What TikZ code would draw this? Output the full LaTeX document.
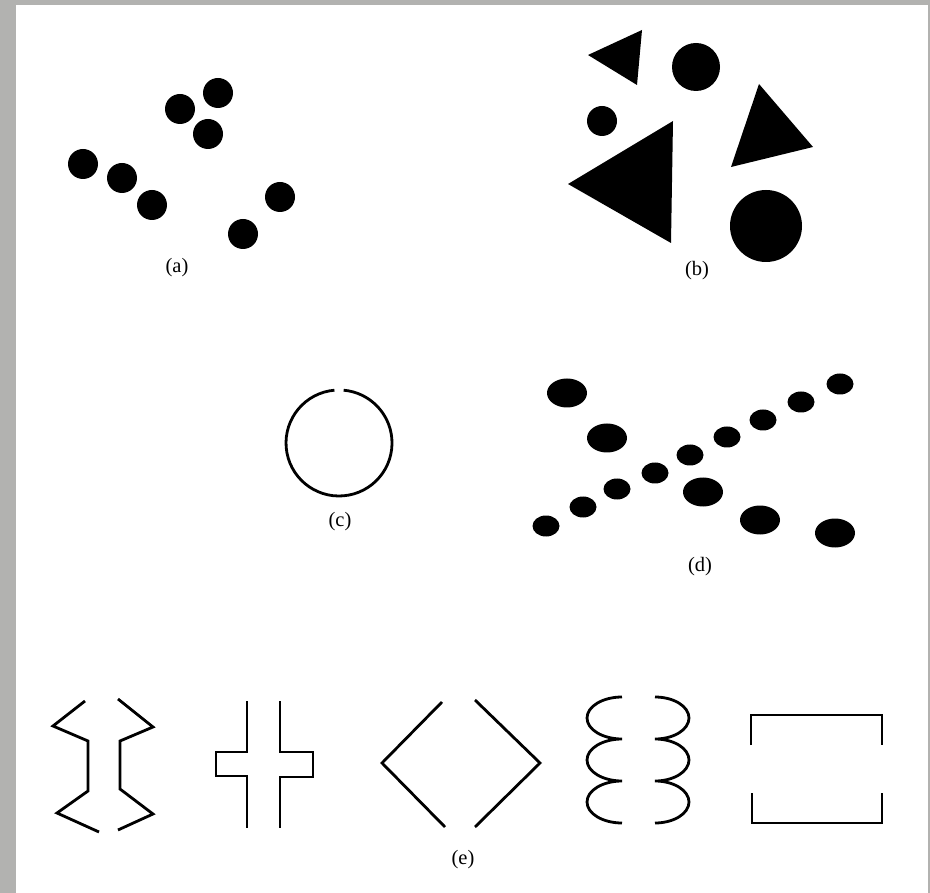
\documentclass[tikz,border=0pt]{standalone}
\usepackage{fontspec}
\setmainfont{Liberation Serif}
\definecolor{framegray}{HTML}{B2B2B0}
\begin{document}
\begin{tikzpicture}[x=1pt,y=-1pt,
  dot/.style={fill=black},
  outline/.style={draw=black,line width=2.8pt},
  lbl/.style={font=\fontsize{20.5}{22}\selectfont,inner sep=0pt}]
\useasboundingbox (0,0) rectangle (930,893);
\fill[framegray] (0,0) rectangle (930,893);
\fill[white] (16,5) rectangle (928,893);
% (a)
\foreach \x/\y in {180/109,218/93,208/134,83/164,122/178,152/205,280/197,243/234}
  \fill[dot] (\x,\y) circle[radius=15pt];
\node[lbl] (la) at (177,268) {(a)};
% (b)
\fill[dot] (588,55) -- (642,30) -- (637,85) -- cycle;
\fill[dot] (696,67) circle[radius=24pt];
\fill[dot] (602,121) circle[radius=15pt];
\fill[dot] (568,184) -- (673,121) -- (671,243) -- cycle;
\fill[dot] (759,84) -- (813,147) -- (731,167) -- cycle;
\fill[dot] (766,226) circle[radius=36pt];
\node[lbl] (lb) at (697,271) {(b)};
% (c)
\draw[outline] (334.4,390.2) arc[start angle=95,end angle=445,radius=53pt];
\node[lbl] (lc) at (340,522) {(c)};
% (d)
\foreach \x/\y in {567/393,607/438,703/492,760/520,835/533}
  \fill[dot] (\x,\y) ellipse[x radius=20pt,y radius=14.5pt];
\foreach \x/\y in {546/526,583/507,617/489,655/473,690/455,727/437,763/420,801/402,840/384}
  \fill[dot] (\x,\y) ellipse[x radius=13.5pt,y radius=10.5pt];
\node[lbl] (ld) at (700,567) {(d)};
% (e) shape 1
\draw[outline] (85,701) -- (53,726) -- (88,741) -- (88,791) -- (57,813) -- (99,832);
\draw[outline] (118,699) -- (153,727) -- (120,741) -- (120,789) -- (153,814) -- (118,830);
% shape 2
\draw[outline] (247,701) -- (247,752) -- (216,752) -- (216,776) -- (247,776) -- (247,828);
\draw[outline] (280,701) -- (280,752) -- (313,752) -- (313,777) -- (280,777) -- (280,828);
% shape 3
\draw[outline] (442,702) -- (382,763) -- (445,827);
\draw[outline] (475,700) -- (540,763) -- (475,827);
% shape 4
\draw[outline] (622,697) arc[start angle=90,end angle=270,x radius=35pt,y radius=21pt]
  arc[start angle=90,end angle=270,x radius=35pt,y radius=21pt]
  arc[start angle=90,end angle=270,x radius=35pt,y radius=21pt];
\draw[outline] (655,697) arc[start angle=90,end angle=-90,x radius=34pt,y radius=21pt]
  arc[start angle=90,end angle=-90,x radius=34pt,y radius=21pt]
  arc[start angle=90,end angle=-90,x radius=34pt,y radius=21pt];
% shape 5
\draw[outline] (751,745) -- (751,715) -- (882,715) -- (882,745);
\draw[outline] (752,793) -- (752,823) -- (882,823) -- (882,793);
\node[lbl] (le) at (463,860) {(e)};
\end{tikzpicture}
\end{document}
